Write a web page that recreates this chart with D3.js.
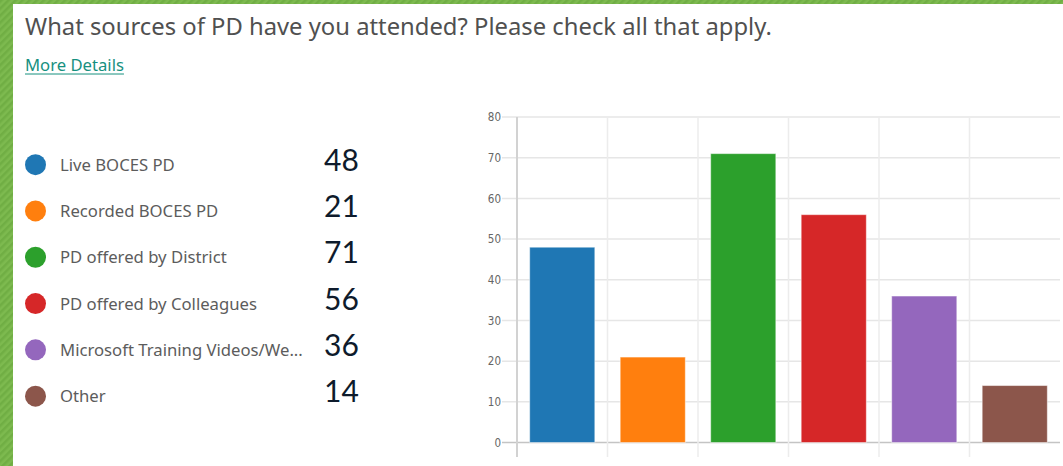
<!DOCTYPE html>
<html>
<head>
<meta charset="utf-8">
<script src="https://cdn.jsdelivr.net/npm/d3@7"></script>
<style>
  html, body { margin: 0; padding: 0; background: #fff; }
  svg { display: block; }
</style>
</head>
<body>
<script>
// Data
const categories = [
    'Live BOCES PD',
    'Recorded BOCES PD',
    'PD offered by District',
    'PD offered by Colleagues',
    'Microsoft Training Videos/We...',
    'Other'
];
const values = [48, 21, 71, 56, 36, 14];
const yTicks = [0, 10, 20, 30, 40, 50, 60, 70, 80];
const colors = ['#1f77b4', '#ff7f0e', '#2ca02c', '#d62728', '#9467bd', '#8c564b'];

const title = 'What sources of PD have you attended? Please check all that apply.';
const linkText = 'More Details';

// SVG setup
const width = 1063;
const height = 466;

const svg = d3.select('body')
.append('svg')
.attr('width', width)
.attr('height', height);

// green hatched frame
const defs = svg.append('defs');
const pat = defs.append('pattern')
.attr('id', 'hatch')
.attr('width', 5)
.attr('height', 5)
.attr('patternUnits', 'userSpaceOnUse')
.attr('patternTransform', 'rotate(45)');
pat.append('rect').attr('width', 5).attr('height', 5).attr('fill', '#7dba4f');
pat.append('rect').attr('width', 2.5).attr('height', 5).attr('fill', '#70ae44');

svg.append('rect')
.attr('width', width)
.attr('height', height)
.attr('fill', 'url(#hatch)');

svg.append('rect')
.attr('x', 13)
.attr('y', 4)
.attr('width', width - 13)
.attr('height', height - 4)
.attr('fill', '#fff');

// fit text to a measured width
function fitSize(text, family, target) {
    const t = svg.append('text')
    .attr('font-family', family)
    .attr('font-size', 100)
    .text(text);
    const w = t.node().getComputedTextLength();
    t.remove();
    return 100 * target / w;
}

// Title + link
const titleFont = '"Noto Sans", "Open Sans", sans-serif';
svg.append('text')
.attr('x', 25)
.attr('y', 35)
.attr('font-family', titleFont)
.attr('font-size', fitSize(title, titleFont, 747))
.attr('fill', '#505050')
.text(title);

const linkSize = fitSize(linkText, titleFont, 99);
const link = svg.append('text')
.attr('x', 25)
.attr('y', 71)
.attr('font-family', titleFont)
.attr('font-size', linkSize)
.attr('fill', '#16907f')
.text(linkText);
const linkW = link.node().getComputedTextLength();
svg.append('line')
.attr('x1', 25)
.attr('x2', 25 + linkW)
.attr('y1', 74)
.attr('y2', 74)
.attr('stroke', '#16907f')
.attr('stroke-width', 1);

// Legend
const rowScale = d3.scaleBand()
.domain(categories)
.range([141.5, 141.5 + 6 * 46.3]);
const rowY = c => rowScale(c) + rowScale.bandwidth() / 2;

const legendFont = '"Noto Sans", "Open Sans", sans-serif';
const legendSize = fitSize('PD offered by Colleagues', legendFont, 197);

const legend = svg.append('g');
legend.selectAll('circle')
.data(categories)
.enter()
.append('circle')
.attr('cx', 35.5)
.attr('cy', c => rowY(c))
.attr('r', 10.5)
.attr('fill', (c, i) => colors[i]);

legend.selectAll('text.label')
.data(categories)
.enter()
.append('text')
.attr('class', 'label')
.attr('x', 60)
.attr('y', c => rowY(c) + legendSize * 0.36)
.attr('font-family', legendFont)
.attr('font-size', legendSize)
.attr('fill', '#5c5c5c')
.text(c => c);

legend.selectAll('text.value')
.data(values)
.enter()
.append('text')
.attr('class', 'value')
.attr('x', 324)
.attr('y', (v, i) => rowY(categories[i]) + 6)
.attr('font-family', 'Lato, "Open Sans", sans-serif')
.attr('font-size', 30)
.attr('fill', '#0e1b2c')
.text(v => v);

// Chart
const xScale = d3.scaleBand()
.domain(categories)
.range([517, 1060])
.paddingInner(0);

const yScale = d3.scaleLinear()
.domain([0, 80])
.range([442.5, 117]);

const barW = xScale.bandwidth() * 0.72;

const chart = svg.append('g');

// horizontal gridlines
chart.selectAll('line.hgrid')
.data(yTicks)
.enter()
.append('line')
.attr('class', 'hgrid')
.attr('x1', 502)
.attr('x2', 1060)
.attr('y1', d => yScale(d))
.attr('y2', d => yScale(d))
.attr('stroke', d => d === 0 ? '#c4c4c4' : '#e6e6e6')
.attr('stroke-width', 1.5);

// vertical gridlines
chart.selectAll('line.vgrid')
.data(categories)
.enter()
.append('line')
.attr('class', 'vgrid')
.attr('x1', c => xScale(c))
.attr('x2', c => xScale(c))
.attr('y1', yScale(80))
.attr('y2', 457)
.attr('stroke', (c, i) => i === 0 ? '#d2d2d2' : '#ececec')
.attr('stroke-width', (c, i) => i === 0 ? 2 : 1.5);

// y axis labels
const yAxis = d3.axisLeft(yScale)
.tickValues(yTicks)
.tickSize(0)
.tickPadding(16);

chart.append('g')
.attr('transform', 'translate(517,0)')
.call(yAxis)
.call(g => g.select('.domain').remove())
.selectAll('text')
.attr('font-family', '"DejaVu Sans Condensed", "Liberation Sans Narrow", sans-serif')
.attr('font-size', 11.5)
.attr('fill', '#666');

// bars
chart.selectAll('rect')
.data(values)
.enter()
.append('rect')
.attr('x', (v, i) => xScale(categories[i]) + (xScale.bandwidth() - barW) / 2)
.attr('y', v => yScale(v))
.attr('width', barW)
.attr('height', v => yScale(0) - yScale(v))
.attr('fill', (v, i) => colors[i])
.attr('stroke', '#fff')
.attr('stroke-opacity', 0.5)
.attr('stroke-width', 1);
</script>
</body>
</html>
